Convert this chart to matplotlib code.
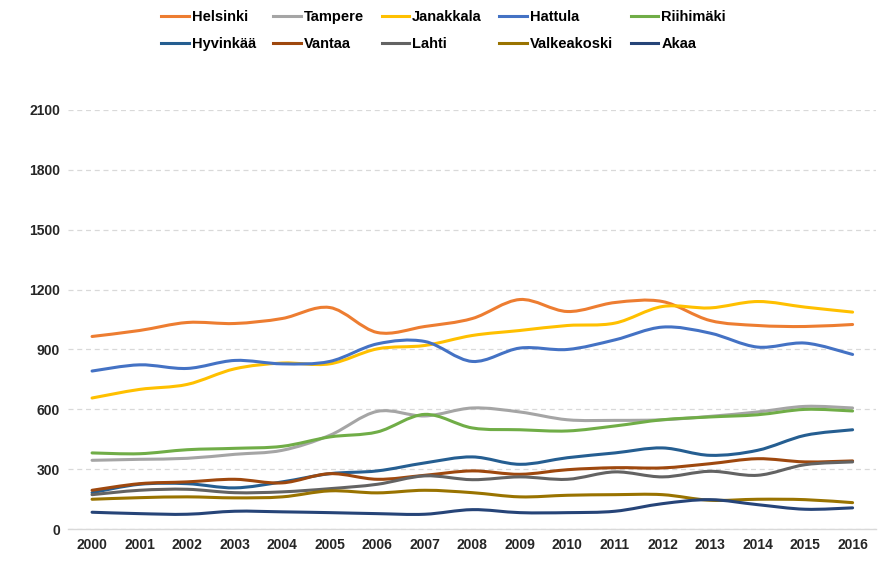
import matplotlib
matplotlib.use("Agg")
import matplotlib.pyplot as plt
import numpy as np
from matplotlib.path import Path
from matplotlib.patches import PathPatch
from matplotlib.lines import Line2D

plt.rcParams['font.family'] = ['Liberation Sans', 'DejaVu Sans']

years = list(range(2000, 2017))

helsinki = [965, 995, 1035, 1030, 1055, 1110, 985, 1015, 1055, 1150, 1090, 1135, 1140, 1045, 1020, 1015, 1025]
tampere = [345, 350, 355, 375, 395, 470, 590, 567, 607, 587, 548, 545, 548, 565, 587, 615, 607]
janakkala = [657, 700, 725, 803, 832, 828, 903, 920, 970, 995, 1020, 1032, 1115, 1108, 1140, 1112, 1087]
hattula = [792, 823, 805, 845, 828, 840, 928, 940, 840, 907, 900, 948, 1012, 982, 912, 932, 875]
riihimaki = [382, 378, 398, 405, 415, 462, 487, 575, 507, 498, 492, 517, 548, 562, 573, 600, 592]
hyvinkaa = [183, 225, 228, 207, 237, 278, 292, 332, 362, 325, 358, 382, 407, 370, 395, 470, 498]
vantaa = [195, 228, 237, 250, 232, 278, 250, 270, 292, 275, 298, 308, 307, 328, 353, 337, 342]
lahti = [173, 195, 200, 183, 187, 203, 225, 267, 248, 262, 250, 287, 262, 290, 270, 323, 337]
valkeakoski = [150, 158, 162, 157, 162, 192, 182, 195, 183, 162, 170, 173, 173, 145, 150, 148, 133]
akaa = [85, 78, 75, 90, 87, 83, 78, 75, 98, 83, 83, 90, 128, 148, 123, 100, 107]

series = [
    ("Helsinki", helsinki, "#ED7D31"),
    ("Tampere", tampere, "#A5A5A5"),
    ("Janakkala", janakkala, "#FFC000"),
    ("Hattula", hattula, "#4472C4"),
    ("Riihimäki", riihimaki, "#70AD47"),
    ("Hyvinkää", hyvinkaa, "#255E91"),
    ("Vantaa", vantaa, "#9E480E"),
    ("Lahti", lahti, "#636363"),
    ("Valkeakoski", valkeakoski, "#997300"),
    ("Akaa", akaa, "#264478"),
]


def smooth_path(x, y):
    # excel-like smoothed line: bezier segments with catmull-rom control points
    p = np.column_stack([x, y]).astype(float)
    ext = np.vstack([p[0], p, p[-1]])
    verts = [p[0]]
    codes = [Path.MOVETO]
    for i in range(len(p) - 1):
        p0, p1, p2, p3 = ext[i], ext[i + 1], ext[i + 2], ext[i + 3]
        c1 = p1 + (p2 - p0) / 6.0
        c2 = p2 - (p3 - p1) / 6.0
        verts += [c1, c2, p2]
        codes += [Path.CURVE4] * 3
    return Path(verts, codes)


fig = plt.figure(figsize=(8.87, 5.63), dpi=100)
ax = fig.add_axes([0.077, 0.060, 0.911, 0.745])

handles = []
for name, vals, col in series:
    patch = PathPatch(smooth_path(years, vals), facecolor='none', edgecolor=col,
                      lw=2.2, capstyle='round', joinstyle='round')
    ax.add_patch(patch)
    handles.append(Line2D([], [], color=col, lw=2.2, label=name))

ax.set_xlim(1999.5, 2016.5)
ax.set_ylim(0, 2100)
ax.set_xticks(years)
ax.set_yticks(range(0, 2101, 300))
ax.tick_params(length=0, labelsize=10, pad=6)
for lab in ax.get_xticklabels() + ax.get_yticklabels():
    lab.set_fontweight('bold')
    lab.set_color('#262626')
ax.grid(axis='y', color='#d9d9d9', ls=(0, (4, 3)), lw=0.9)
ax.set_axisbelow(True)
for s in ['top', 'right', 'left']:
    ax.spines[s].set_visible(False)
ax.spines['bottom'].set_color('#d9d9d9')
ax.spines['bottom'].set_linewidth(1.0)

# legend fills column by column, so interleave to get row order
ncol = 5
order = [handles[r * ncol + c] for c in range(ncol) for r in range(2)]
fig.legend(handles=order, loc='upper center', bbox_to_anchor=(0.5, 1.005), ncol=ncol,
           frameon=False, prop={'weight': 'bold', 'size': 10.5},
           handlelength=1.9, handletextpad=0.2, columnspacing=1.2, labelspacing=0.9)

fig.savefig("out.png", dpi=100)
